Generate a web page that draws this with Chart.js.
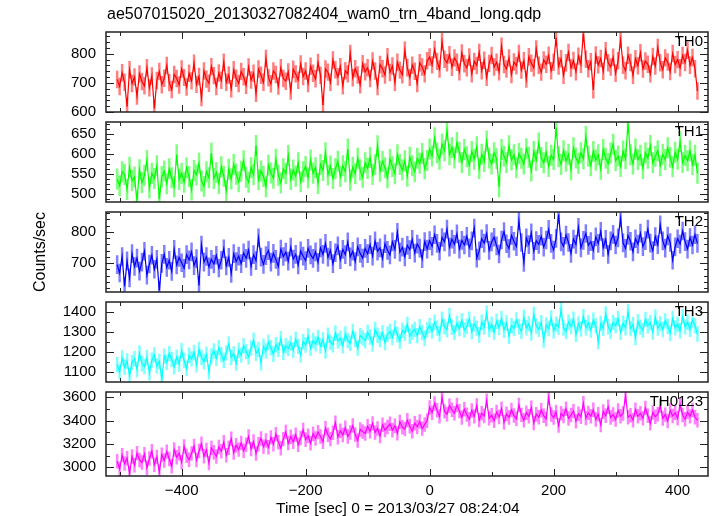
<!DOCTYPE html>
<html><head><meta charset="utf-8">
<script src="https://cdn.jsdelivr.net/npm/chart.js@4"></script>
<style>
html,body{margin:0;padding:0;background:#fff}
body{width:717px;height:516px;overflow:hidden;position:relative;font-family:"Liberation Sans",Arial,sans-serif;color:#000}
canvas{position:absolute;left:0}
.txt{position:absolute;white-space:nowrap;z-index:5}
</style></head><body>
<div class="txt" id="title" style="left:107px;top:5px;font-size:16px;line-height:18px">ae507015020_20130327082404_wam0_trn_4band_long.qdp</div>
<div class="txt" id="ylab" style="left:-20px;top:243px;width:120px;height:18px;line-height:18px;font-size:16px;text-align:center;transform:rotate(-90deg)">Counts/sec</div>
<div class="txt" id="xlab" style="left:276px;top:499px;font-size:15.5px;line-height:18px">Time [sec] 0 = 2013/03/27 08:24:04</div>
<canvas id="c0" width="717" height="118" style="top:13px;width:717px;height:118px"></canvas>
<canvas id="c1" width="717" height="118" style="top:103px;width:717px;height:118px"></canvas>
<canvas id="c2" width="717" height="118" style="top:193px;width:717px;height:118px"></canvas>
<canvas id="c3" width="717" height="118" style="top:283px;width:717px;height:118px"></canvas>
<canvas id="c4" width="717" height="143" style="top:373px;width:717px;height:143px"></canvas>
<script>
// time bins (sec, relative to 2013/03/27 08:24:04)
const binStart = -504, binSize = 4;
const xMin = -522, xMax = 449;
const xTickLabels = [-400, -200, 0, 200, 400];

const bandNames = ['TH0', 'TH1', 'TH2', 'TH3', 'TH0123'];

const TH0 = [
712,688,735,702,618,745,698,720,655,731,
705,690,752,683,724,612,708,739,694,716,
760,701,677,729,715,693,748,719,686,733,
707,768,695,722,650,741,713,699,756,725,
688,734,709,771,702,727,680,745,716,698,
739,721,692,755,710,733,664,748,726,702,
784,718,697,741,729,689,752,715,706,738,
672,747,731,709,765,722,741,698,757,733,
714,770,726,623,748,737,702,779,745,721,
756,690,742,731,801,718,749,727,694,766,
738,752,715,775,741,688,763,749,727,790,
736,758,702,771,744,728,812,752,719,761,
740,698,769,755,731,776,
789,762,815,774,748,842,781,769,797,754,
786,771,738,803,766,
752,789,731,774,760,805,742,778,719,767,
794,755,771,738,826,763,748,786,729,772,
759,801,744,776,713,790,768,752,817,761,
737,779,764,795,742,771,856,758,783,726,
769,805,751,777,738,792,764,870,781,749,
773,676,796,762,784,740,811,769,755,788,
733,776,848,761,742,795,770,726,783,759,
804,748,775,764,731,791,758,822,769,745,
786,772,739,801,763,780,752,794,770,812,
761,787,749,672];

const TH1 = [
538,521,556,549,512,567,534,543,483,561,
529,547,584,516,552,539,571,488,544,558,
526,563,541,519,598,537,552,530,566,544,
511,559,548,577,533,520,556,541,602,539,
554,527,568,545,509,562,538,574,550,531,
557,583,542,530,566,549,621,536,558,544,
519,572,553,540,587,547,528,563,551,596,
537,560,545,578,531,556,569,541,585,552,
566,527,574,559,603,548,570,539,563,582,
544,571,556,612,535,567,551,589,560,542,
578,564,591,549,573,620,557,582,566,541,
587,569,551,598,574,560,583,545,592,571,
556,589,577,601,563,584,
612,595,640,603,587,624,608,659,598,616,
590,628,604,579,611,
593,572,606,587,618,564,599,581,632,590,
575,603,588,518,611,594,579,620,585,598,
566,601,589,575,613,592,558,606,584,627,
591,578,604,569,597,586,665,593,574,608,
582,599,561,615,590,577,603,588,643,594,
571,606,585,598,562,611,589,576,602,624,
583,595,569,607,588,676,598,575,612,586,
597,564,603,589,621,578,594,608,571,599,
586,615,592,568,604,587,631,579,596,583,
608,574,597,552];

const TH2 = [
695,668,721,625,707,652,730,689,716,674,
703,738,661,697,725,680,712,612,699,728,
686,709,673,744,694,718,701,683,727,710,
736,692,714,628,758,703,721,688,712,697,
725,684,709,746,691,718,667,730,705,722,
698,733,715,742,689,727,708,781,719,696,
724,740,703,731,712,689,745,721,735,706,
751,713,728,694,739,722,708,747,726,715,
736,702,749,728,763,719,741,698,733,755,
711,744,727,768,720,738,705,752,731,716,
747,730,759,722,771,738,749,715,762,741,
726,768,744,799,735,751,720,757,743,776,
732,761,748,714,769,745,
772,754,791,763,738,782,768,809,751,777,
760,794,745,773,758,
786,749,771,812,716,739,778,764,795,741,
768,783,755,729,774,801,762,747,789,770,
753,835,766,702,781,759,797,738,772,760,
786,751,774,808,763,742,779,856,768,754,
790,766,731,777,760,815,749,773,795,757,
769,741,784,763,802,750,776,728,771,792,
758,781,844,765,747,789,770,736,778,761,
796,753,772,809,764,740,785,759,823,771,
748,787,766,709,752,778,761,803,769,745,
782,758,791,763];

const TH3 = [
1138,1102,1171,1125,1156,1083,1149,1167,1114,1195,
1142,1128,1173,1097,1160,1185,1131,1154,1066,1179,
1148,1192,1163,1127,1175,1141,1206,1158,1119,1184,
1166,1198,1137,1213,1174,1152,1189,1102,1181,1205,
1169,1221,1187,1158,1196,1240,1173,1192,1145,1209,
1185,1231,1202,1176,1219,1258,1194,1213,1147,1227,
1205,1248,1221,1189,1236,1212,1267,1199,1231,1218,
1244,1209,1263,1228,1186,1251,1235,1279,1218,1257,
1240,1272,1229,1261,1205,1283,1248,1236,1294,1255,
1268,1231,1289,1257,1243,1302,1262,1219,1281,1270,
1256,1297,1274,1239,1311,1283,1262,1295,1247,1288,
1301,1272,1319,1285,1254,1307,1293,1336,1278,1299,
1312,1281,1325,1296,1268,1309,
1331,1304,1347,1318,1289,1362,1325,1311,1380,1322,
1297,1341,1316,1355,1308,
1327,1362,1301,1339,1318,1284,1347,1323,1392,1311,
1336,1298,1352,1321,1364,1309,1343,1278,1330,1317,
1358,1325,1302,1371,1319,1340,1294,1385,1328,1312,
1345,1259,1333,1316,1368,1305,1337,1322,1409,1318,
1301,1349,1326,1362,1287,1339,1314,1375,1320,1343,
1308,1357,1329,1251,1341,1317,1388,1325,1302,1346,
1331,1364,1297,1342,1320,1399,1316,1335,1272,1350,
1323,1307,1361,1329,1345,1298,1372,1318,1340,1311,
1354,1327,1293,1366,1319,1338,1305,1376,1324,1347,
1312,1359,1330,1289];

const TH0123 = [
3052,2985,3104,3031,3078,2948,3093,3017,3121,3063,
3040,3112,2996,3075,3138,3022,3089,2961,3107,3058,
3134,3071,3009,3152,3086,3120,3043,3178,3098,3065,
3117,3183,3062,3139,3201,3094,3148,3036,3166,3129,
3092,3174,3138,3215,3103,3167,3244,3126,3189,3151,
3208,3142,3193,3263,3157,3221,3118,3198,3247,3176,
3229,3171,3256,3198,3284,3215,3163,3241,3302,3207,
3262,3218,3279,3193,3251,3319,3236,3270,3205,3288,
3247,3301,3264,3218,3335,3279,3243,3296,3382,3258,
3312,3276,3339,3264,3298,3357,3281,3229,3324,3306,
3289,3351,3308,3376,3297,3332,3268,3364,3319,3345,
3372,3318,3356,3291,3389,3342,3327,3403,3351,3309,
3378,3346,3392,3331,3367,3399,
3512,3468,3547,3489,3436,3601,3479,3455,3528,3492,
3463,3534,3481,3427,3498,
3451,3412,3487,3436,3529,3404,3462,3440,3571,3419,
3446,3398,3473,3431,3502,3385,3458,3427,3491,3443,
3416,3534,3449,3402,3468,3437,3511,3379,3455,3428,
3489,3441,3413,3597,3452,3426,3474,3358,3463,3439,
3502,3418,3447,3481,3395,3459,3432,3548,3421,3466,
3437,3492,3410,3455,3363,3478,3441,3519,3426,3452,
3409,3487,3438,3461,3612,3429,3446,3403,3494,3437,
3462,3419,3508,3441,3376,3470,3432,3455,3527,3418,
3451,3397,3486,3440,3467,3421,3539,3448,3412,3473,
3436,3491,3428,3402];

// 1-sigma error of each band (counts/sec)
const bandErrors = [30, 26, 30, 38, 62];
// y-axis ranges and tick labels
const yRanges = [[600, 875], [481, 679], [607, 864], [1052, 1447], [2925, 3645]];
const yTickLabels = [[600, 700, 800], [500, 550, 600, 650], [700, 800], [1100, 1200, 1300, 1400], [3000, 3200, 3400, 3600]];

// styles
const colors = ['#ff0000', '#00ff00', '#0000ff', '#00ffff', '#ff00ff'];
const errColors = ['rgba(255,0,0,0.5)', 'rgba(0,255,0,0.5)', 'rgba(0,0,255,0.5)', 'rgba(0,255,255,0.5)', 'rgba(255,0,255,0.5)'];
const yMinorSteps = [20, 12.5, 20, 50, 100];
const FONT = '"Liberation Sans", Arial, Helvetica, sans-serif';

Chart.defaults.font.family = FONT;
Chart.defaults.font.size = 15;
Chart.defaults.color = '#000';

const qdpPlugin = {
  id: 'qdp',
  beforeDatasetsDraw(chart, args, o) {
    const {ctx, chartArea: a, scales: {x, y}} = chart;
    const ds = chart.data.datasets[0];
    ctx.save();
    ctx.beginPath(); ctx.rect(a.left, a.top, a.width, a.height); ctx.clip();
    const w = Math.abs(x.getPixelForValue(binSize) - x.getPixelForValue(0));
    ctx.strokeStyle = o.errColor; ctx.lineWidth = w;
    ctx.lineCap = 'butt';
    ctx.beginPath();
    for (const p of ds.data) {
      const px = x.getPixelForValue(p.x);
      ctx.moveTo(px, y.getPixelForValue(p.y - o.err));
      ctx.lineTo(px, y.getPixelForValue(p.y + o.err));
    }
    ctx.stroke();
    ctx.restore();
  },
  afterDraw(chart, args, o) {
    const {ctx, chartArea: a, scales: {x, y}} = chart;
    ctx.save();
    ctx.strokeStyle = '#222';
    ctx.lineWidth = 1;
    ctx.beginPath();
    const isMul = (v, m) => Math.abs(v / m - Math.round(v / m)) < 1e-6;
    for (let v = Math.ceil(y.min / o.yMinor) * o.yMinor; v <= y.max + 1e-9; v += o.yMinor) {
      const py = Math.round(y.getPixelForValue(v)) + 0.5;
      const len = isMul(v, o.yMajor) ? 8 : 4;
      ctx.moveTo(a.left, py); ctx.lineTo(a.left + len, py);
      ctx.moveTo(a.right, py); ctx.lineTo(a.right - len, py);
    }
    for (let v = Math.ceil(x.min / 100) * 100; v <= x.max + 1e-9; v += 100) {
      const px = Math.round(x.getPixelForValue(v)) + 0.5;
      const len = isMul(v, 200) ? 7 : 4;
      ctx.moveTo(px, a.top); ctx.lineTo(px, a.top + len);
      ctx.moveTo(px, a.bottom); ctx.lineTo(px, a.bottom - len);
    }
    ctx.stroke();
    ctx.lineWidth = 1.5;
    ctx.strokeRect(a.left, a.top, a.right - a.left, a.bottom - a.top);
    ctx.fillStyle = '#000';
    ctx.font = '15px ' + FONT;
    ctx.textAlign = 'right';
    ctx.textBaseline = 'middle';
    ctx.fillText(chart.data.datasets[0].label, a.right - 5, a.top + 10);
    ctx.restore();
  }
};

const series = [TH0, TH1, TH2, TH3, TH0123];

series.forEach((vals, k) => {
  const last = k === series.length - 1;
  const pts = vals.map((v, i) => ({x: binStart + i * binSize, y: v}));
  const yt = yTickLabels[k];
  new Chart(document.getElementById('c' + k), {
    type: 'line',
    data: {datasets: [{
      label: bandNames[k], data: pts,
      borderColor: colors[k], borderWidth: 1.2, pointRadius: 0, tension: 0, fill: false
    }]},
    plugins: [qdpPlugin],
    options: {
      responsive: false, maintainAspectRatio: false, animation: false, events: [],
      layout: {padding: {left: 46, right: 9, top: 14, bottom: last ? 0 : 14}},
      plugins: {
        legend: {display: false}, tooltip: {enabled: false},
        qdp: {err: bandErrors[k], errColor: errColors[k], yMinor: yMinorSteps[k], yMajor: yt[1] - yt[0]}
      },
      scales: {
        x: {
          type: 'linear', min: xMin, max: xMax, display: last,
          grid: {display: false, drawTicks: false}, border: {display: false},
          afterBuildTicks: s => { s.ticks = xTickLabels.map(v => ({value: v})); },
          afterFit: s => { s.height = last ? 40 : 0; },
          ticks: {padding: 6, maxRotation: 0, autoSkip: false,
            callback: v => (v < 0 ? '\u2212' + Math.abs(v) : String(v))}
        },
        y: {
          type: 'linear', min: yRanges[k][0], max: yRanges[k][1],
          grid: {display: false, drawTicks: false}, border: {display: false},
          afterBuildTicks: s => { s.ticks = yt.map(v => ({value: v})); },
          afterFit: s => { s.width = 60; },
          ticks: {padding: 10, autoSkip: false, callback: v => String(v)}
        }
      }
    }
  });
});
</script>
</body></html>
